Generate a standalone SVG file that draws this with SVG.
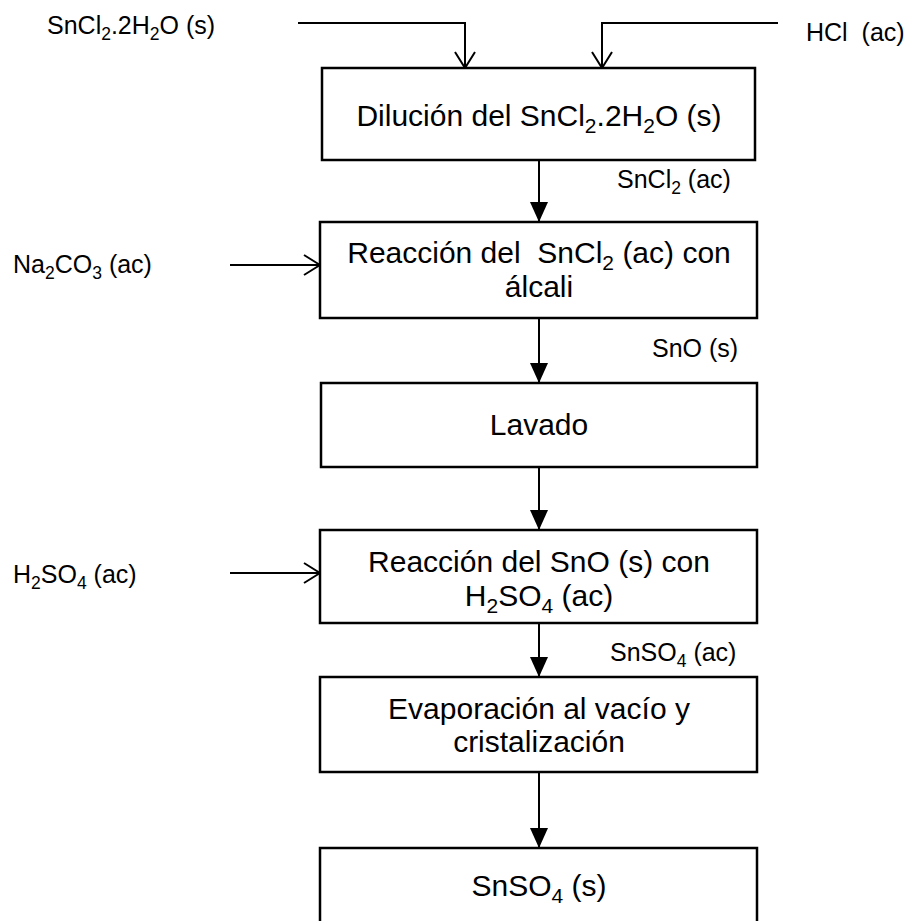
<svg xmlns="http://www.w3.org/2000/svg" width="922" height="921" viewBox="0 0 922 921">
  <style>
    .box { fill: #ffffff; stroke: #000000; stroke-width: 2.5; }
    .t { font-family: "Liberation Sans", Arial, sans-serif; fill: #000000; }
    .bt { font-size: 30px; text-anchor: middle; }
    .lb { font-size: 25px; }
    .sub { font-size: 70%; }
    .wire { fill: none; stroke: #000000; stroke-width: 2; }
    .feed { marker-end: url(#openHead); }
    .flow { marker-end: url(#solidHead); }
  </style>
  <defs>
    <marker id="openHead" viewBox="0 0 18 22" refX="17" refY="11" markerWidth="18" markerHeight="22" markerUnits="userSpaceOnUse" orient="auto">
      <path d="M1,1 L17,11 L1,21" fill="none" stroke="#000000" stroke-width="2"/>
    </marker>
    <marker id="solidHead" viewBox="0 0 20 18" refX="20" refY="9" markerWidth="20" markerHeight="18" markerUnits="userSpaceOnUse" orient="auto">
      <path d="M0,0 L20,9 L0,18 Z" fill="#000000"/>
    </marker>
  </defs>

  <rect width="922" height="921" fill="#ffffff"/>

  <!-- connectors -->
  <g id="connectors">
    <polyline class="wire feed" points="298,23 465,23 465,68"/>
    <polyline class="wire feed" points="778,23 602,23 602,68"/>
    <line class="wire feed" x1="230" y1="265" x2="320" y2="265"/>
    <line class="wire feed" x1="230" y1="573" x2="320" y2="573"/>
    <line class="wire flow" x1="539" y1="160" x2="539" y2="222"/>
    <line class="wire flow" x1="539" y1="318" x2="539" y2="383"/>
    <line class="wire flow" x1="539" y1="467" x2="539" y2="530"/>
    <line class="wire flow" x1="539" y1="623" x2="539" y2="677"/>
    <line class="wire flow" x1="539" y1="772" x2="539" y2="848"/>
  </g>

  <!-- stream labels -->
  <g id="stream-labels" class="t lb">
    <text x="47" y="34">SnCl<tspan class="sub" dy="6">2</tspan><tspan dy="-6">.2H</tspan><tspan class="sub" dy="6">2</tspan><tspan dy="-6">O (s)</tspan></text>
    <text x="806" y="41" xml:space="preserve">HCl  (ac)</text>
    <text x="617" y="188">SnCl<tspan class="sub" dy="6">2</tspan><tspan dy="-6"> (ac)</tspan></text>
    <text x="13" y="273">Na<tspan class="sub" dy="6">2</tspan><tspan dy="-6">CO</tspan><tspan class="sub" dy="6">3</tspan><tspan dy="-6"> (ac)</tspan></text>
    <text x="652" y="357">SnO (s)</text>
    <text x="13" y="583">H<tspan class="sub" dy="6">2</tspan><tspan dy="-6">SO</tspan><tspan class="sub" dy="6">4</tspan><tspan dy="-6"> (ac)</tspan></text>
    <text x="610" y="661">SnSO<tspan class="sub" dy="6">4</tspan><tspan dy="-6"> (ac)</tspan></text>
  </g>

  <!-- process steps -->
  <g id="dilucion">
    <rect class="box" x="322" y="68" width="433" height="92"/>
    <text class="t bt" x="539" y="126">Dilución del SnCl<tspan class="sub" dy="7">2</tspan><tspan dy="-7">.2H</tspan><tspan class="sub" dy="7">2</tspan><tspan dy="-7">O (s)</tspan></text>
  </g>

  <g id="reaccion-alcali">
    <rect class="box" x="320" y="222" width="437" height="96"/>
    <text class="t bt" x="539" y="263" xml:space="preserve">Reacción del  SnCl<tspan class="sub" dy="7">2</tspan><tspan dy="-7"> (ac) con</tspan></text>
    <text class="t bt" x="539" y="297">álcali</text>
  </g>

  <g id="lavado">
    <rect class="box" x="321" y="383" width="436" height="84"/>
    <text class="t bt" x="539" y="435">Lavado</text>
  </g>

  <g id="reaccion-acido">
    <rect class="box" x="320" y="530" width="437" height="93"/>
    <text class="t bt" x="539" y="572">Reacción del SnO (s) con</text>
    <text class="t bt" x="539" y="606">H<tspan class="sub" dy="7">2</tspan><tspan dy="-7">SO</tspan><tspan class="sub" dy="7">4</tspan><tspan dy="-7"> (ac)</tspan></text>
  </g>

  <g id="evaporacion">
    <rect class="box" x="320" y="677" width="437" height="95"/>
    <text class="t bt" x="539" y="719">Evaporación al vacío y</text>
    <text class="t bt" x="539" y="752">cristalización</text>
  </g>

  <g id="producto">
    <rect class="box" x="320" y="848" width="437" height="80"/>
    <text class="t bt" x="539" y="896">SnSO<tspan class="sub" dy="7">4</tspan><tspan dy="-7"> (s)</tspan></text>
  </g>
</svg>
